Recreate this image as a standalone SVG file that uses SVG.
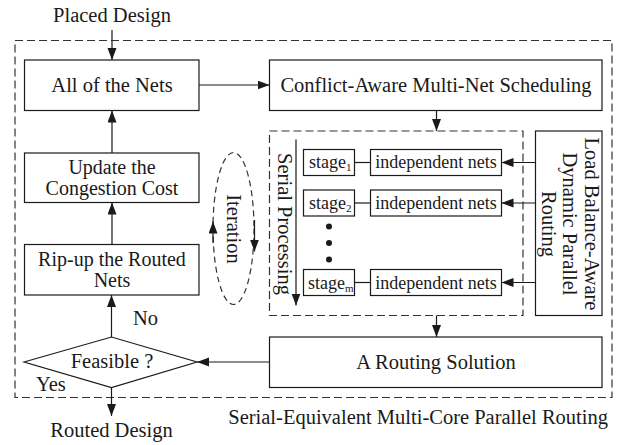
<svg xmlns="http://www.w3.org/2000/svg" width="618" height="445" viewBox="0 0 618 445">
  <defs>
    <marker id="arrow" markerUnits="userSpaceOnUse" markerWidth="13" markerHeight="10" refX="12" refY="4.5" orient="auto">
      <path d="M0,0 L12,4.5 L0,9 z" fill="#1a1a1a"/>
    </marker>
    <style>
      .box { fill: #ffffff; stroke: #1a1a1a; stroke-width: 1.2; }
      .dash { fill: none; stroke: #333333; stroke-width: 1.2; stroke-dasharray: 8 4; }
      .line { fill: none; stroke: #1a1a1a; stroke-width: 1.2; }
      .arr { fill: none; stroke: #1a1a1a; stroke-width: 1.2; marker-end: url(#arrow); }
      text { font-family: "Liberation Serif", "Times New Roman", serif; fill: #1a1a1a; }
      .t { font-size: 20.5px; }
      .t2 { font-size: 20px; }
      .s { font-size: 18px; }
      .sub { font-size: 11px; }
      .mid { text-anchor: middle; }
    </style>
  </defs>

  <rect width="618" height="445" fill="#ffffff"/>

  <!-- outer frame: serial-equivalent multi-core parallel routing -->
  <g id="frame">
    <rect class="dash" x="15" y="40.5" width="597" height="357"/>
    <text class="t" x="608" y="424" text-anchor="end">Serial-Equivalent Multi-Core Parallel Routing</text>
  </g>

  <g id="placed-design">
    <text class="t mid" x="112" y="22">Placed Design</text>
  </g>

  <g id="routed-design">
    <text class="t mid" x="111.5" y="437">Routed Design</text>
  </g>

  <g id="all-nets">
    <rect class="box" x="24.5" y="60" width="174.5" height="50.5"/>
    <text class="t mid" x="112" y="92">All of the Nets</text>
  </g>

  <g id="scheduling">
    <rect class="box" x="269.5" y="60" width="332.5" height="50.5"/>
    <text class="t mid" x="436" y="92">Conflict-Aware Multi-Net Scheduling</text>
  </g>

  <g id="update-cost">
    <rect class="box" x="24.5" y="153" width="174.5" height="49.5"/>
    <text class="t2 mid" x="112" y="174">Update the</text>
    <text class="t2 mid" x="112" y="194.5">Congestion Cost</text>
  </g>

  <g id="rip-up">
    <rect class="box" x="24.5" y="244.5" width="174.5" height="50.5"/>
    <text class="t2 mid" x="112" y="265.5">Rip-up the Routed</text>
    <text class="t2 mid" x="112" y="286.5">Nets</text>
  </g>

  <g id="iteration">
    <ellipse cx="233.5" cy="228.5" rx="20.5" ry="76" fill="none" stroke="#333333" stroke-width="1.2" stroke-dasharray="6 4"/>
    <text class="t mid" transform="translate(227,229) rotate(90)">Iteration</text>
  </g>

  <!-- serial processing group of stages -->
  <g id="serial-processing">
    <rect class="dash" x="269.5" y="131" width="253.5" height="184.5"/>
    <text class="t mid" transform="translate(277.5,224) rotate(90)">Serial Processing</text>
  </g>

  <g id="stage-1">
    <rect class="box" x="303.5" y="149.5" width="51" height="26"/>
    <text class="s" x="309" y="168">stage<tspan class="sub" dy="3">1</tspan></text>
  </g>
  <g id="nets-1">
    <rect class="box" x="370.5" y="149.5" width="131" height="26"/>
    <text class="s mid" x="436" y="168">independent nets</text>
  </g>

  <g id="stage-2">
    <rect class="box" x="303.5" y="190" width="51" height="26"/>
    <text class="s" x="309" y="208.5">stage<tspan class="sub" dy="3">2</tspan></text>
  </g>
  <g id="nets-2">
    <rect class="box" x="370.5" y="190" width="131" height="26"/>
    <text class="s mid" x="436" y="208.5">independent nets</text>
  </g>

  <g id="ellipsis">
    <circle cx="329" cy="226.5" r="3" fill="#1a1a1a"/>
    <circle cx="329" cy="243" r="3" fill="#1a1a1a"/>
    <circle cx="329" cy="259.5" r="3" fill="#1a1a1a"/>
  </g>

  <g id="stage-m">
    <rect class="box" x="303.5" y="269.5" width="51" height="26"/>
    <text class="s" x="308" y="288.5">stage<tspan class="sub" dy="3">m</tspan></text>
  </g>
  <g id="nets-m">
    <rect class="box" x="370.5" y="269.5" width="131" height="26"/>
    <text class="s mid" x="436" y="288.5">independent nets</text>
  </g>

  <g id="load-balance">
    <rect class="box" x="535.5" y="131" width="66.5" height="184.5"/>
    <text class="t mid" transform="translate(585,224) rotate(90)">Load Balance-Aware</text>
    <text class="t mid" transform="translate(563,224) rotate(90)">Dynamic Parallel</text>
    <text class="t mid" transform="translate(541.5,224) rotate(90)">Routing</text>
  </g>

  <g id="routing-solution">
    <rect class="box" x="269.5" y="337" width="332.5" height="50.5"/>
    <text class="t mid" x="436" y="369">A Routing Solution</text>
  </g>

  <g id="feasible">
    <polygon class="box" points="24,362 111.5,337 197,362 111.5,387.5"/>
    <text class="t mid" x="112" y="368">Feasible ?</text>
  </g>

  <g id="connectors">
    <line class="arr" x1="112" y1="30" x2="112" y2="60"/>
    <line class="arr" x1="199" y1="85" x2="269.5" y2="85"/>
    <line class="arr" x1="436.5" y1="110.5" x2="436.5" y2="131"/>
    <line class="arr" x1="112" y1="153" x2="112" y2="110.5"/>
    <line class="arr" x1="112" y1="244.5" x2="112" y2="202.5"/>
    <line class="arr" x1="111.5" y1="337" x2="111.5" y2="295"/>
    <line class="arr" x1="269.5" y1="362" x2="197" y2="362"/>
    <line class="arr" x1="111.5" y1="387.5" x2="111.5" y2="416"/>
    <line class="arr" x1="436.5" y1="315.5" x2="436.5" y2="337"/>
    <line class="arr" x1="296" y1="139.5" x2="296" y2="305.5"/>
    <line class="line" x1="354.5" y1="162.5" x2="370.5" y2="162.5"/>
    <line class="line" x1="354.5" y1="203" x2="370.5" y2="203"/>
    <line class="line" x1="354.5" y1="282.5" x2="370.5" y2="282.5"/>
    <line class="arr" x1="535.5" y1="162.5" x2="501.5" y2="162.5"/>
    <line class="arr" x1="535.5" y1="203" x2="501.5" y2="203"/>
    <line class="arr" x1="535.5" y1="282.5" x2="501.5" y2="282.5"/>
    <line class="arr" x1="213" y1="243" x2="213" y2="221.5"/>
    <line class="arr" x1="254.5" y1="220" x2="254.5" y2="251.5"/>
    <text class="t" x="133" y="325">No</text>
    <text class="t" x="36" y="391">Yes</text>
  </g>
</svg>
